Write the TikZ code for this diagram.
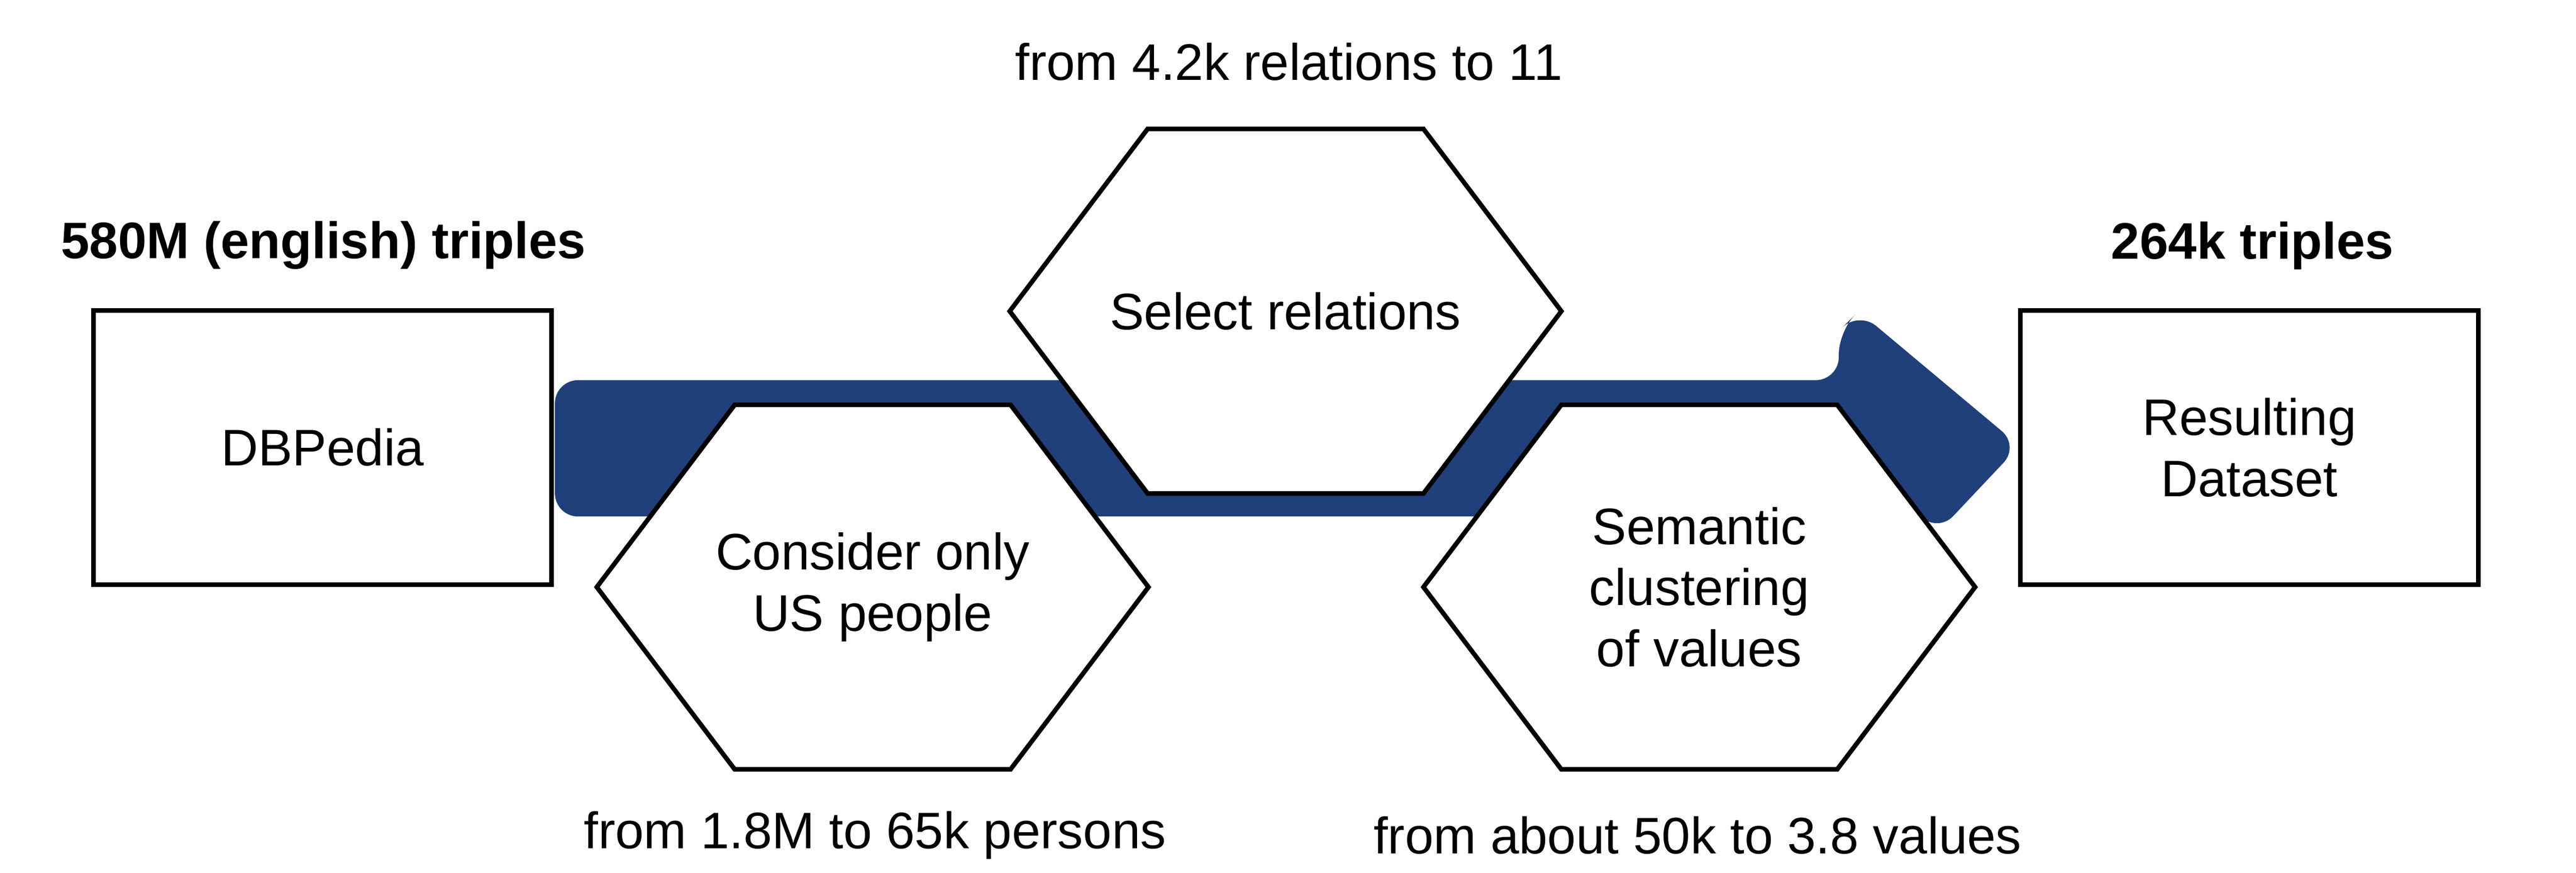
\documentclass[tikz,border=0pt]{standalone}
\usepackage{fontspec}
\setmainfont{Liberation Sans}
\usetikzlibrary{positioning}
\definecolor{bandblue}{RGB}{31,64,122}
\newcommand\hexW{1.68}
\newcommand\hexH{1.11}
\newcommand\hexnode[4]{
		\fill[white] (#2-\hexW,#3) -- (#2-\hexW/2,#3+\hexH) -- (#2+\hexW/2,#3+\hexH) -- (#2+\hexW,#3) -- (#2+\hexW/2,#3-\hexH) -- (#2-\hexW/2,#3-\hexH) -- cycle;
		\draw[line width=0.8pt] (#2-\hexW,#3) -- (#2-\hexW/2,#3+\hexH) -- (#2+\hexW/2,#3+\hexH) -- (#2+\hexW,#3) -- (#2+\hexW/2,#3-\hexH) -- (#2-\hexW/2,#3-\hexH) -- cycle;
		\node (#1) at (#2,#3) [hexlabel] {#4};
	}

\begin{document}
\begin{tikzpicture}[every node/.style={font=\fontsize{8.9}{10.6}\selectfont},
		hexlabel/.style={align=center},
		stage/.style={draw,line width=0.8pt,fill=white,minimum width=2.79cm,minimum height=1.67cm,align=center},
		title/.style={font=\fontsize{8.9}{10.6}\selectfont\bfseries}]
		\useasboundingbox (0,0) rectangle (15.69,5.315);
		
		% draw the flow band behind everything
		\fill[bandblue,rounded corners=4pt] (3.38,3.00) -- (11.20,3.00) -- (11.20,3.30) -- (11.32,3.42) -- (12.30,2.60) -- (11.80,2.07) -- (11.70,2.17) -- (3.38,2.17) -- cycle;
		
		% draw start and end boxes
		\node (dbpedia) at (1.965,2.59) [stage] {DBPedia};
		\node (result) at (13.70,2.59) [stage] {Resulting\\Dataset};
		\node[title] at (1.97,3.82) {580M (english) triples};
		\node[title] at (13.72,3.82) {264k triples};
		
		% draw filtering steps
		\hexnode{usonly}{5.315}{1.74}{Consider only\\US people}
		\hexnode{relations}{7.83}{3.42}{Select relations}
		\hexnode{clustering}{10.35}{1.74}{Semantic\\clustering\\of values}
		
		% draw step annotations
		\node at (7.85,4.94) {from 4.2k relations to 11};
		\node at (5.33,0.23) {from 1.8M to 65k persons};
		\node at (10.34,0.23) {from about 50k to 3.8 values};
	\end{tikzpicture}
\end{document}
